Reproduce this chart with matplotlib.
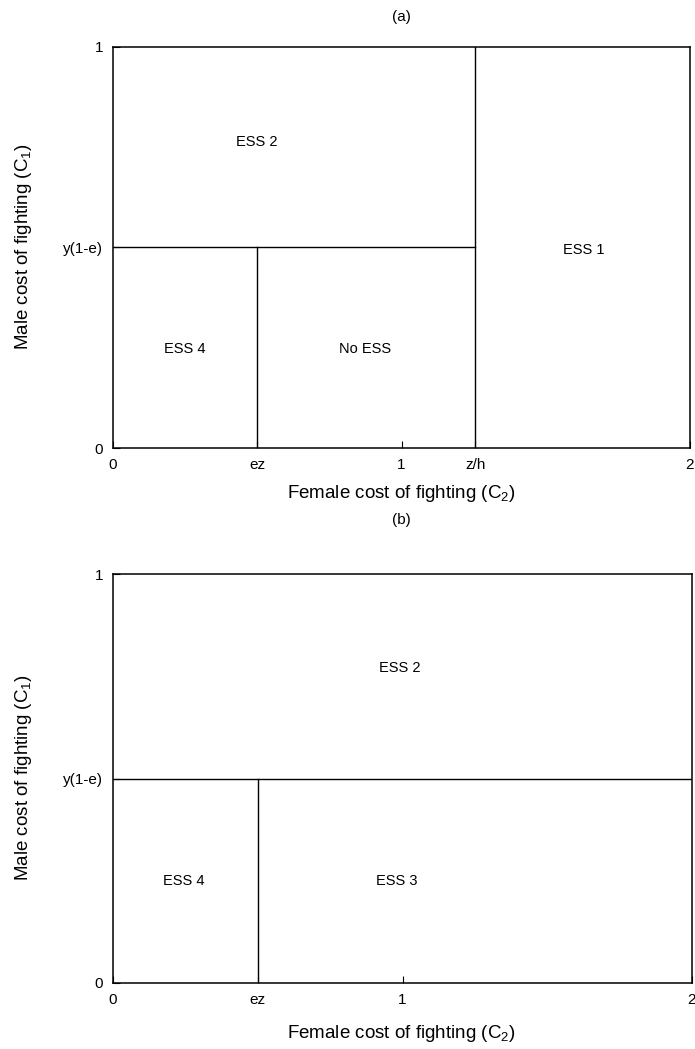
import matplotlib
matplotlib.use("Agg")
import matplotlib.pyplot as plt

plt.rcParams['font.family'] = ['Liberation Sans', 'DejaVu Sans']
plt.rcParams['mathtext.default'] = 'regular'

# boundary values
ez = 0.5
zh = 1.255
y1e_a = 0.5
y1e_b = 0.5

x_ticks_a = [0, ez, 1, zh, 2]
x_labels_a = ["0", "ez", "1", "z/h", "2"]
x_ticks_b = [0, ez, 1, 2]
x_labels_b = ["0", "ez", "1", "2"]

regions_a = [("ESS 2", 0.5, 0.763), ("ESS 1", 1.63, 0.494),
             ("ESS 4", 0.25, 0.247), ("No ESS", 0.873, 0.247)]
regions_b = [("ESS 2", 0.99, 0.77), ("ESS 4", 0.245, 0.25),
             ("ESS 3", 0.98, 0.25)]

W, H = 695, 1049
fig = plt.figure(figsize=(W / 100, H / 100), dpi=100)


def box(l, r, t, b):
    return [l / W, 1 - b / H, (r - l) / W, (b - t) / H]


ax_a = fig.add_axes(box(113, 690, 47, 448))
ax_b = fig.add_axes(box(113, 692, 574, 983))


def setup(ax, y1e, xt, xl):
    ax.set_xlim(0, 2)
    ax.set_ylim(0, 1)
    ax.set_xticks(xt)
    ax.set_xticklabels(xl)
    ax.set_yticks([0, y1e, 1])
    ax.set_yticklabels(["0", "y(1-e)", "1"])
    ax.tick_params(direction='in', length=5, width=0.8, labelsize=11, pad=7)
    for s in ax.spines.values():
        s.set_linewidth(1.1)


setup(ax_a, y1e_a, x_ticks_a, x_labels_a)
ax_a.plot([0, zh], [y1e_a, y1e_a], color='black', lw=1.0)
ax_a.plot([ez, ez], [0, y1e_a], color='black', lw=1.0)
ax_a.plot([zh, zh], [0, 1], color='black', lw=1.0)
for name, x, y in regions_a:
    ax_a.text(x, y, name, ha='center', va='center', fontsize=10.5)

setup(ax_b, y1e_b, x_ticks_b, x_labels_b)
ax_b.plot([0, 2], [y1e_b, y1e_b], color='black', lw=1.0)
ax_b.plot([ez, ez], [0, y1e_b], color='black', lw=1.0)
for name, x, y in regions_b:
    ax_b.text(x, y, name, ha='center', va='center', fontsize=10.5)

# titles and axis labels placed in figure pixels
fig.text(401 / W, 1 - 17 / H, "(a)", ha='center', va='center', fontsize=11)
fig.text(401 / W, 1 - 520 / H, "(b)", ha='center', va='center', fontsize=11)
fig.text(401 / W, 1 - 494 / H, "Female cost of fighting (C$_2$)",
         ha='center', va='center', fontsize=13.5)
fig.text(401 / W, 1 - 1033 / H, "Female cost of fighting (C$_2$)",
         ha='center', va='center', fontsize=13.5)
fig.text(24 / W, 1 - 247 / H, "Male cost of fighting (C$_1$)",
         ha='center', va='center', rotation=90, fontsize=13.5)
fig.text(24 / W, 1 - 778 / H, "Male cost of fighting (C$_1$)",
         ha='center', va='center', rotation=90, fontsize=13.5)

fig.savefig("out.png", dpi=100)
